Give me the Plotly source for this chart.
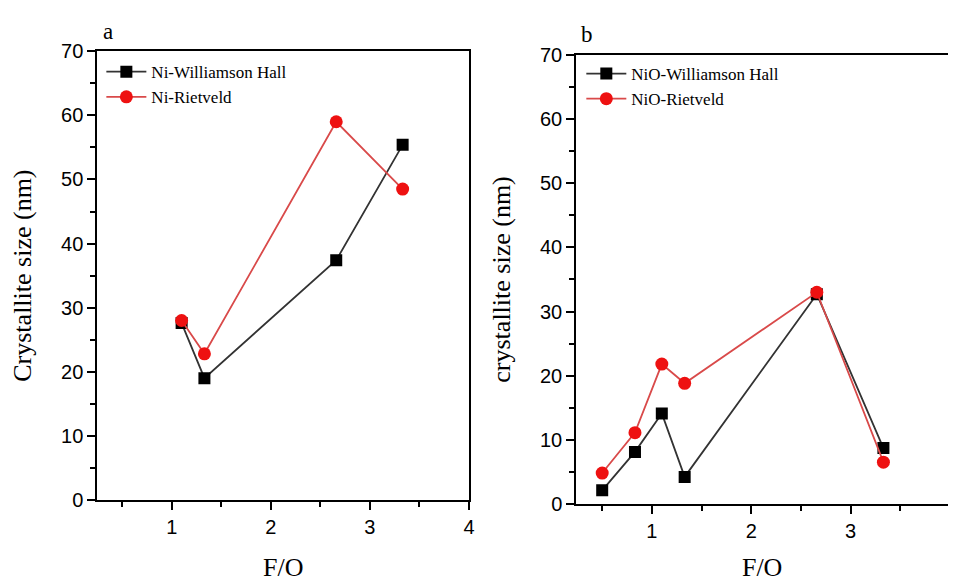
import plotly.graph_objects as go

# Panel a data
fo_a = [1.1, 1.33, 2.66, 3.33]
ni_wh = [27.6, 19.0, 37.4, 55.4]
ni_rv = [28.0, 22.8, 59.0, 48.5]

# Panel b data
fo_b = [0.5, 0.83, 1.1, 1.33, 2.66, 3.33]
nio_wh = [2.1, 8.1, 14.1, 4.2, 32.7, 8.7]
nio_rv = [4.8, 11.1, 21.8, 18.8, 33.0, 6.5]

ytick_vals = [0, 10, 20, 30, 40, 50, 60, 70]
xtick_vals = [1, 2, 3, 4]

BLACK_LINE = "#333333"
RED_LINE = "#d94a4a"
RED = "#ee1111"
SERIF = "Liberation Serif, Times New Roman, serif"
SANS = "Liberation Sans, Arial, sans-serif"

fig = go.Figure()

fig.add_trace(go.Scatter(x=fo_a, y=ni_wh, mode="lines+markers", name="Ni-Williamson Hall",
                         line=dict(color=BLACK_LINE, width=1.8),
                         marker=dict(symbol="square", size=12, color="black"),
                         xaxis="x", yaxis="y", legend="legend"))
fig.add_trace(go.Scatter(x=fo_a, y=ni_rv, mode="lines+markers", name="Ni-Rietveld",
                         line=dict(color=RED_LINE, width=1.8),
                         marker=dict(symbol="circle", size=13, color=RED),
                         xaxis="x", yaxis="y", legend="legend"))
fig.add_trace(go.Scatter(x=fo_b, y=nio_wh, mode="lines+markers", name="NiO-Williamson Hall",
                         line=dict(color=BLACK_LINE, width=1.8),
                         marker=dict(symbol="square", size=12, color="black"),
                         xaxis="x2", yaxis="y2", legend="legend2"))
fig.add_trace(go.Scatter(x=fo_b, y=nio_rv, mode="lines+markers", name="NiO-Rietveld",
                         line=dict(color=RED_LINE, width=1.8),
                         marker=dict(symbol="circle", size=13, color=RED),
                         xaxis="x2", yaxis="y2", legend="legend2"))

W, H = 954, 582

def px_x(p):
    return p / W

def px_y(p):
    return 1 - p / H

common_axis = dict(showgrid=False, zeroline=False, showline=True, linecolor="black", linewidth=2.2,
                   ticks="outside", ticklen=8, tickwidth=2, tickcolor="black",
                   tickfont=dict(family=SANS, size=20, color="black"))
minor_x = dict(ticks="outside", ticklen=5, tickwidth=2, tickcolor="black", dtick=0.5, tick0=0)
minor_y = dict(ticks="outside", ticklen=5, tickwidth=2, tickcolor="black", dtick=5, tick0=0)
title_font = dict(family=SERIF, size=26, color="black")

fig.update_layout(
    width=W, height=H, margin=dict(l=0, r=0, t=0, b=0),
    paper_bgcolor="white", plot_bgcolor="white",
    showlegend=True,
    xaxis=dict(domain=[px_x(98), px_x(472)], range=[0.25, 4.0], tickvals=xtick_vals,
               mirror=True, anchor="y", minor=minor_x,
               title=dict(text="F/O", font=title_font, standoff=22),
               **common_axis),
    yaxis=dict(domain=[px_y(510), px_y(42)], range=[0, 70], tickvals=ytick_vals,
               mirror=True, anchor="x", minor=minor_y,
               title=dict(text="Crystallite size (nm)", font=title_font, standoff=22),
               **common_axis),
    xaxis2=dict(domain=[px_x(580), 1.0], range=[0.24, 3.98], tickvals=xtick_vals,
                mirror=True, anchor="y2", minor=minor_x,
                title=dict(text="F/O", font=title_font, standoff=22),
                **common_axis),
    yaxis2=dict(domain=[px_y(514), px_y(46)], range=[0, 70], tickvals=ytick_vals,
                mirror=False, anchor="x2", minor=minor_y,
                title=dict(text="crystallite size (nm)", font=title_font, standoff=22),
                **common_axis),
    legend=dict(x=px_x(102), y=px_y(45), xanchor="left", yanchor="top",
                bgcolor="rgba(0,0,0,0)", font=dict(family=SERIF, size=17, color="black"),
                tracegroupgap=0, itemwidth=40),
    legend2=dict(x=px_x(585), y=px_y(47), xanchor="left", yanchor="top",
                 bgcolor="rgba(0,0,0,0)", font=dict(family=SERIF, size=17, color="black"),
                 tracegroupgap=0, itemwidth=40),
    annotations=[
        dict(text="a", x=px_x(102), y=px_y(21), xref="paper", yref="paper", showarrow=False,
             xanchor="left", yanchor="middle", font=dict(family=SERIF, size=23, color="black")),
        dict(text="b", x=px_x(583), y=px_y(24), xref="paper", yref="paper", showarrow=False,
             xanchor="left", yanchor="middle", font=dict(family=SERIF, size=23, color="black")),
    ],
)

fig.write_html("out.html")
